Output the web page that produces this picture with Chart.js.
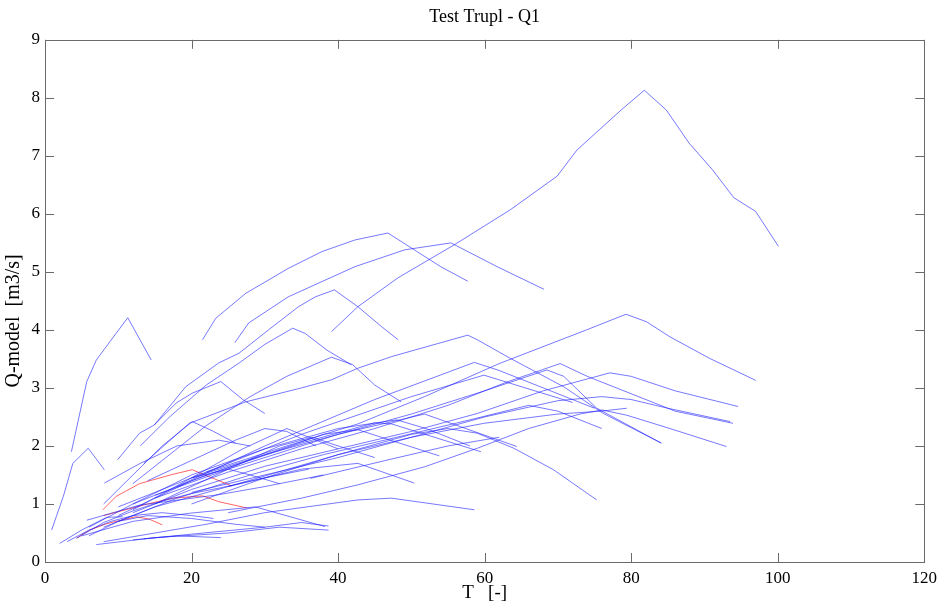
<!DOCTYPE html>
<html>
<head>
<meta charset="utf-8">
<script src="https://cdn.jsdelivr.net/npm/chart.js@4.4.0/dist/chart.umd.min.js"></script>
<style>
  html,body{margin:0;padding:0;background:#fff;}
</style>
</head>
<body>
<canvas id="chart" width="943" height="605"></canvas>
<script>
// axis ticks
const xTicks = [0,20,40,60,80,100,120];
const yTicks = [0,1,2,3,4,5,6,7,8,9];
const titleText = 'Test Trupl - Q1';

// model runs, [T, Q] pairs (blue)
const r01 = [[39.1,3.97],[42.7,4.4],[48.2,4.9],[55.9,5.47],[63.5,6.07],[69.9,6.65],[72.6,7.1],[76.7,7.57],[78.9,7.82],[81.8,8.13],[84.8,7.79],[87.9,7.22],[91.1,6.76],[94.0,6.28],[97.0,6.04],[100.1,5.44]];
const r02 = [[21.5,3.83],[23.3,4.2],[27.4,4.63],[33.2,5.06],[37.8,5.35],[42.3,5.55],[46.8,5.67],[50.4,5.38],[54.0,5.09],[57.7,4.84]];
const r03 = [[25.9,3.78],[27.8,4.12],[33.2,4.57],[42.3,5.09],[49.1,5.38],[55.4,5.5],[61.7,5.09],[68.1,4.7]];
const r04 = [[14.9,2.36],[17,2.68],[19.2,3.02],[23.7,3.43],[26.5,3.6],[30.5,4.0],[34.6,4.4],[36.9,4.57],[39.5,4.69],[42.7,4.4],[45.9,4.06],[48.2,3.83]];
const r05 = [[3.6,1.9],[5.7,3.11],[7.0,3.48],[9.7,3.94],[11.3,4.21],[14.5,3.48]];
const r06 = [[0.9,0.55],[2.5,1.13],[3.8,1.7],[5.9,1.96],[8.1,1.59]];
const r07 = [[22,1.55],[33,2.0],[42.7,2.38],[51.8,2.85],[62,3.42],[73.9,4.0],[79.3,4.27],[82.1,4.14],[85.3,3.88],[90.7,3.51],[97,3.13]];
const r08 = [[13,2.0],[17,2.5],[22,3.05],[26.5,3.43],[30,3.75],[33.8,4.03],[35.5,3.94],[38.5,3.65],[41.8,3.4]];
const r09 = [[9.9,1.76],[12.9,2.22],[14.9,2.36],[17.9,2.74],[20.1,2.91],[24,3.11],[27,2.8],[30,2.56]];
const r10 = [[12,1.35],[17,1.85],[22,2.35],[28,2.85],[33,3.2],[39.1,3.53],[42,3.4],[45,3.05],[48.6,2.76]];
const r11 = [[13.5,1.7],[19.7,2.39],[27.4,2.76],[35,3.0],[39.1,3.14],[42.7,3.34],[47.3,3.54],[57.7,3.91],[59,3.83],[63.5,3.51],[70.8,3.02],[76.2,2.56],[84.1,2.05]];
const r12 = [[12,0.85],[20,1.25],[30,1.65],[40,1.95],[50,2.25],[59,2.56],[68,2.95],[77.1,3.26],[80,3.2],[86,2.95],[94.6,2.68]];
const r13 = [[15,1.1],[25,1.55],[35,1.95],[45,2.3],[55,2.7],[63,3.1],[70.3,3.42],[74,3.2],[80,2.9],[86,2.6],[93.9,2.39]];
const r14 = [[20,1.2],[30,1.5],[40,1.8],[50,2.15],[60,2.5],[70,2.78],[76,2.85],[80,2.8],[85,2.65],[93.5,2.42]];
const r15 = [[25,0.85],[35,1.1],[42.7,1.33],[51.8,1.64],[59,1.96],[66,2.3],[73,2.55],[76,2.62],[79.4,2.53],[85.3,2.3],[93,1.99]];
const r16 = [[20,1.45],[30,1.85],[40,2.2],[50,2.55],[60,2.95],[68.5,3.31],[70.8,3.2],[75.3,2.65],[84.1,2.05]];
const r17 = [[25,1.3],[40,1.85],[50,2.15],[59.9,2.39],[70,2.55],[75.9,2.6],[79.4,2.65]];
const r18 = [[20,1.0],[30,1.45],[40,1.85],[50,2.2],[55,2.3],[59,2.22],[64,1.96],[69.4,1.59],[75.3,1.07]];
const r19 = [[8,0.6],[15,0.95],[25,1.3],[35,1.6],[42.7,1.7],[50.4,1.36]];
const r20 = [[10,0.8],[20,1.4],[30,1.85],[38,2.2],[42.7,2.28],[53.8,1.83]];
const r21 = [[12,1.0],[22,1.5],[35,2.05],[45,2.4],[47.3,2.38],[59.5,1.9]];
const r22 = [[15,1.15],[25,1.6],[40,2.2],[51.8,2.55],[64.4,1.99]];
const r23 = [[20,1.45],[35,2.2],[50,2.85],[59.9,3.22],[63,3.1],[72,2.75]];
const r24 = [[18,1.3],[30,2.0],[45,2.8],[58.6,3.44],[62,3.3],[75,2.65]];
const r25 = [[8,1.0],[12,1.5],[16,2.0],[20.1,2.42],[23,2.25],[26,2.05]];
const r26 = [[12,0.9],[20,1.45],[27,1.95],[33,2.3],[36,2.15],[40,1.95]];
const r27 = [[15,1.0],[25,1.6],[32,2.0],[36.5,2.15],[40,2.0],[45,1.8]];
const r28 = [[7,0.3],[15,0.42],[25,0.5],[32,0.6],[38.7,0.55]];
const r29 = [[12,0.38],[20,0.48],[30,0.6],[35,0.68],[38.7,0.62]];
const r30 = [[13.5,0.4],[18,0.45],[24,0.42]];
const r31 = [[6,0.45],[10,0.7],[14,0.8],[20,0.75],[26,0.65],[30,0.6]];
const r32 = [[3,0.35],[6,0.55],[9,0.7],[12,0.8],[16,0.85],[20,0.8],[23,0.75]];
const r33 = [[8,0.35],[15,0.5],[22,0.65],[30,0.85],[42.7,1.07],[47.3,1.1],[58.6,0.9]];
const r34 = [[2,0.32],[5,0.55],[8.4,0.77],[10.6,0.78]];
const r35 = [[5,0.45],[12,0.7],[19.7,0.84],[28.7,0.95],[38.2,0.61]];
const r36 = [[36.2,1.44],[46.8,1.76],[55,2.0],[62,2.15]];
const r37 = [[4.3,0.41],[8,0.68],[12,0.88],[16,1.05],[20,1.18],[24,1.28],[30,1.45],[36,1.6]];
const r38 = [[5.7,0.72],[12.9,0.98],[23.7,1.16],[30,1.3],[38,1.5]];
const r39 = [[8.1,1.36],[13,1.7],[18,2.0],[23.7,2.1],[28,2.0]];
const r40 = [[10,0.95],[15,1.2],[20,1.45],[25,1.6],[28,1.5],[32,1.35]];
const r41 = [[6,0.6],[12,1.0],[20,1.5],[30,1.95],[40,2.3],[48,2.45],[52,2.3],[58,2.0]];
const r42 = [[10,0.7],[18,1.1],[28,1.5],[38,1.85],[48,2.15],[58,2.45],[66,2.7],[70,2.6],[76,2.3]];
const r43 = [[14,1.4],[20,1.75],[26,2.1],[30,2.3],[33,2.25],[37,2.0]];

// red runs
const red1 = [[7.9,0.9],[9.7,1.13],[12.9,1.35],[17.4,1.51],[20.1,1.59],[22.4,1.47],[25.5,1.31]];
const red2 = [[8,0.8],[11,0.9],[14,1.0],[17.4,1.1],[21.5,1.14],[23.7,1.04],[27.6,0.93]];
const red3 = [[4.3,0.41],[6.1,0.55],[8.4,0.66],[12.4,0.78],[14.2,0.74],[16,0.64]];

const blueRuns = [r01,r02,r03,r04,r05,r06,r07,r08,r09,r10,r11,r12,r13,r14,r15,r16,r17,r18,r19,r20,
  r21,r22,r23,r24,r25,r26,r27,r28,r29,r30,r31,r32,r33,r34,r35,r36,r37,r38,r39,r40,r41,r42,r43];
const redRuns = [red1,red2,red3];

const FONT = "'Liberation Serif','Times New Roman',serif";
const toPts = (run)=>run.map(p=>({x:p[0], y:p[1]}));
const mkSet = (run, col)=>({data:toPts(run), borderColor:col, borderWidth:1, pointRadius:0, fill:false, tension:0});

const datasets = [
  ...blueRuns.map(r=>mkSet(r,'rgba(30,30,255,0.6)')),
  ...redRuns.map(r=>mkSet(r,'rgba(255,50,50,0.75)'))
];

// box round the plot with inward ticks on all four sides, title over the plot centre
const boxTicks = {
  id:'boxTicks',
  afterDatasetsDraw(chart){
    const {ctx, chartArea:a, scales:{x,y}} = chart;
    ctx.save();
    ctx.strokeStyle = '#6a6a6a'; ctx.lineWidth = 1;
    ctx.strokeRect(Math.round(a.left)+0.5, Math.round(a.top)+0.5, Math.round(a.right-a.left), Math.round(a.bottom-a.top));
    ctx.beginPath();
    const L = 9;
    for(const v of xTicks){
      const px = Math.round(x.getPixelForValue(v))+0.5;
      ctx.moveTo(px,a.bottom); ctx.lineTo(px,a.bottom-L);
      ctx.moveTo(px,a.top); ctx.lineTo(px,a.top+L);
    }
    for(const v of yTicks){
      const py = Math.round(y.getPixelForValue(v))+0.5;
      ctx.moveTo(a.left,py); ctx.lineTo(a.left+L,py);
      ctx.moveTo(a.right,py); ctx.lineTo(a.right-L,py);
    }
    ctx.stroke();
    ctx.fillStyle = '#000';
    ctx.font = '18px ' + FONT;
    ctx.textAlign = 'center'; ctx.textBaseline = 'middle';
    ctx.fillText(titleText, (a.left+a.right)/2, 17);
    ctx.restore();
  }
};

new Chart(document.getElementById('chart'), {
  type:'line',
  data:{datasets},
  options:{
    responsive:false, animation:false, devicePixelRatio:1,
    layout:{padding:{left:0, right:14, top:0, bottom:0}},
    plugins:{
      legend:{display:false}, tooltip:{enabled:false},
      // keeps the room at the top; the text itself is drawn by boxTicks
      title:{display:true, text:titleText, color:'rgba(0,0,0,0)',
        font:{family:FONT, size:14, weight:'normal'}, padding:{top:9, bottom:14}}
    },
    scales:{
      x:{type:'linear', min:0, max:120,
        afterBuildTicks:(s)=>{ s.ticks = xTicks.map(v=>({value:v})); },
        afterFit:(s)=>{ s.height = 43; },
        grid:{display:false, drawTicks:false}, border:{display:false},
        ticks:{color:'#000', padding:6, font:{family:FONT, size:17}, maxRotation:0},
        title:{display:true, text:'T   [-]', color:'#000', font:{family:FONT, size:19}, padding:{top:0, bottom:1}}
      },
      y:{type:'linear', min:0, max:9,
        afterBuildTicks:(s)=>{ s.ticks = yTicks.map(v=>({value:v})); },
        afterFit:(s)=>{ s.width = 45; },
        grid:{display:false, drawTicks:false}, border:{display:false},
        ticks:{color:'#000', padding:5, font:{family:FONT, size:17}},
        // trailing spaces nudge the rotated label down a little, as in the original
        title:{display:true, text:'Q-model  [m3/s]        ', color:'#000', font:{family:FONT, size:20}, padding:{top:2, bottom:0}}
      }
    }
  },
  plugins:[boxTicks]
});
</script>
</body>
</html>
